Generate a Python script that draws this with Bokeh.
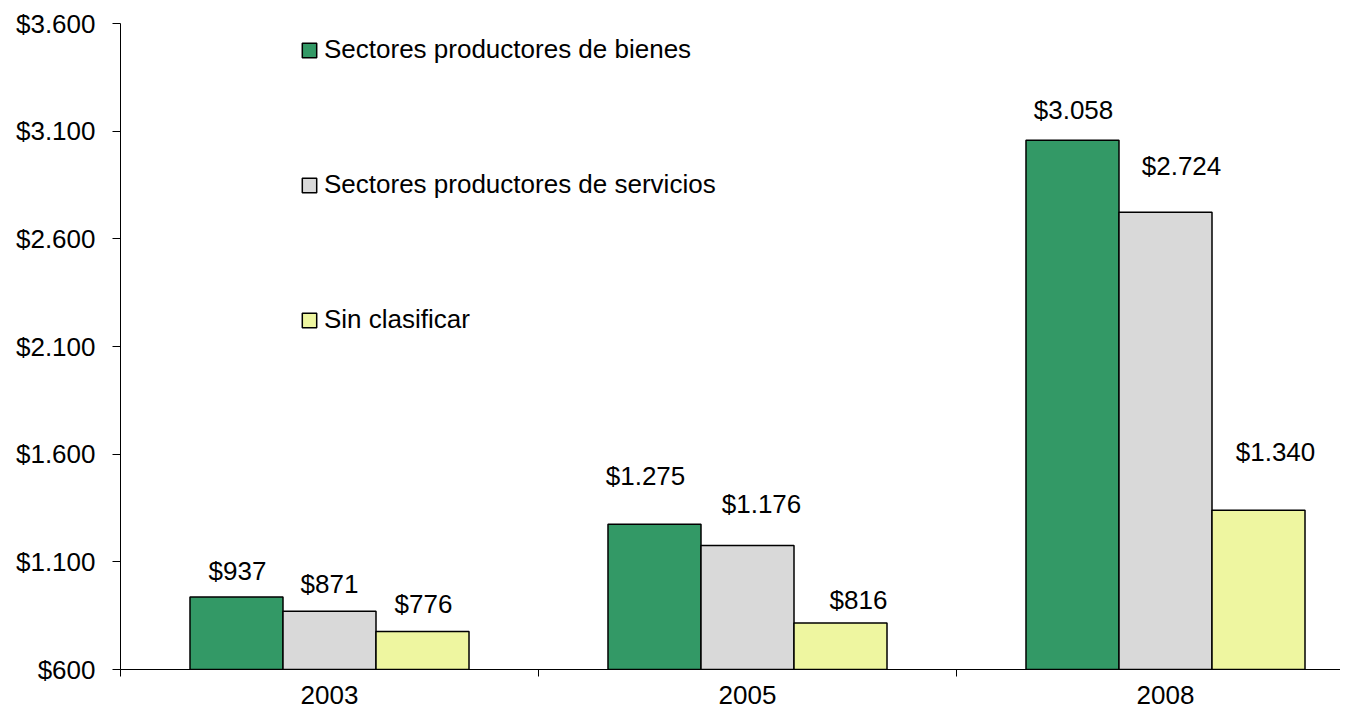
from bokeh.plotting import figure
from bokeh.models import (ColumnDataSource, FixedTicker, Range1d, Legend, LegendItem)
from bokeh.core.properties import value
from bokeh.embed import file_html
from bokeh.resources import INLINE

# ---- data ----
years = ["2003", "2005", "2008"]
bienes = [937, 1275, 3058]
servicios = [871, 1176, 2724]
sin_clasificar = [776, 816, 1340]
series_names = ["Sectores productores de bienes",
                "Sectores productores de servicios",
                "Sin clasificar"]
y_ticks = [600, 1100, 1600, 2100, 2600, 3100, 3600]
y_tick_labels = ["$600", "$1.100", "$1.600", "$2.100", "$2.600", "$3.100", "$3.600"]

# label nudges (pixels) as placed in the original chart
label_dx = [[1, -9, 1], [0, 14, 16], [1, 18, 17]]
label_dy = [[26, 48, 30], [27, 41, 46], [28, 23, 58]]

colors = ["#339966", "#D9D9D9", "#EEF6A0"]
FONT = "Liberation Sans"
FS = "26px"

BASE = y_ticks[0]
TOP = y_ticks[-1]
bar_w = 0.2225
offsets = [-bar_w, 0.0, bar_w]

W, H = 1340, 709
LEFT, TOPB, BOTTOM = 120, 23, 40
p = figure(width=W, height=H, output_backend="svg", toolbar_location=None,
           x_range=Range1d(0, (W - LEFT) / 418), y_range=Range1d(BASE, TOP),
           min_border_left=LEFT, min_border_right=0, min_border_top=TOPB,
           min_border_bottom=BOTTOM)
p.outline_line_color = None
p.xgrid.visible = False
p.ygrid.visible = False
p.background_fill_color = "white"
p.border_fill_color = "white"

def fmt(v):
    return "$" + f"{v:,}".replace(",", ".")

renderers = []
for si, (vals, col) in enumerate(zip([bienes, servicios, sin_clasificar], colors)):
    xs = [i + 0.5 + offsets[si] for i in range(len(years))]
    src = ColumnDataSource(dict(
        x=xs, top=vals, bottom=[BASE] * len(vals),
        lab=[fmt(v) for v in vals],
        dx=label_dx[si], dy=[-d for d in label_dy[si]]))
    r = p.vbar(x="x", top="top", bottom="bottom", width=bar_w, source=src,
               fill_color=col, line_color="black", line_width=1.5)
    renderers.append(r)
    p.text(x="x", y="top", text="lab", source=src, x_offset="dx", y_offset="dy",
           text_align="center", text_baseline="middle",
           text_font=value(FONT), text_font_size=FS, text_color="black")

legend = Legend(items=[LegendItem(label=n, renderers=[r]) for n, r in zip(series_names, renderers)],
                location=(180, 334), orientation="vertical",
                label_text_font=FONT, label_text_font_size=FS, label_text_color="black",
                glyph_width=18, glyph_height=18, label_standoff=6,
                spacing=104, padding=0, margin=0,
                border_line_alpha=0, background_fill_alpha=0)
p.add_layout(legend)

# y axis
p.yaxis.ticker = FixedTicker(ticks=y_ticks)
p.yaxis.major_label_overrides = {t: l for t, l in zip(y_ticks, y_tick_labels)}
p.yaxis.major_tick_out = 8
p.yaxis.major_tick_in = 0
p.yaxis.minor_tick_out = 0
p.yaxis.minor_tick_in = 0
p.yaxis.major_label_standoff = 17
p.yaxis.major_label_text_font = FONT
p.yaxis.major_label_text_font_size = FS
p.yaxis.major_label_text_color = "black"
p.yaxis.axis_line_color = "black"
p.yaxis.major_tick_line_color = "black"

# x axis
centers = [i + 0.5 for i in range(len(years))]
p.xaxis.ticker = FixedTicker(ticks=centers, minor_ticks=list(range(len(years) + 1)))
p.xaxis.major_label_overrides = {c: y for c, y in zip(centers, years)}
p.xaxis.major_tick_out = 0
p.xaxis.major_tick_in = 0
p.xaxis.minor_tick_out = 7
p.xaxis.minor_tick_in = 0
p.xaxis.minor_tick_line_color = "black"
p.xaxis.major_label_standoff = 9
p.xaxis.major_label_text_font = FONT
p.xaxis.major_label_text_font_size = FS
p.xaxis.major_label_text_color = "black"
p.xaxis.axis_line_color = "black"

open("out.html", "w").write(file_html(p, INLINE))
